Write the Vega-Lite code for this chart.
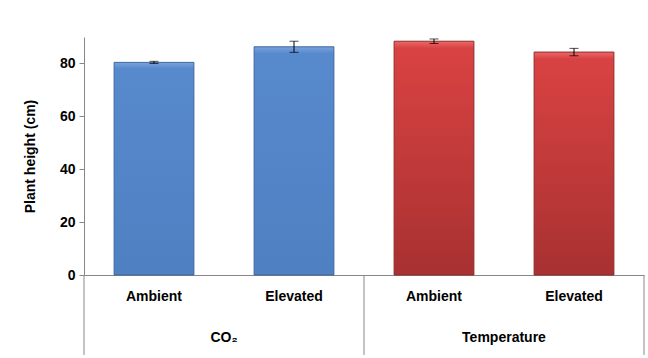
{
  "$schema": "https://vega.github.io/schema/vega-lite/v6.json",
  "width": 560,
  "height": 238,
  "autosize": "none",
  "padding": {"left": 84, "top": 37, "right": 4, "bottom": 83},
  "background": "white",
  "config": {
    "view": {"stroke": null},
    "font": "Liberation Sans",
    "axis": {"grid": false, "domainColor": "#878787", "tickColor": "#878787", "labelColor": "#000000", "titleColor": "#000000", "labelFontSize": 14, "labelFontWeight": "bold", "titleFontSize": 14, "titleFontWeight": "bold"}
  },
  "data": {
    "values": [
      {"key": "CO2|Ambient", "group": "CO2", "glabel": "CO₂", "cond": "Ambient", "height": 80.4, "err": 0.4},
      {"key": "CO2|Elevated", "group": "CO2", "glabel": "CO₂", "cond": "Elevated", "height": 86.3, "err": 2.1},
      {"key": "Temperature|Ambient", "group": "Temperature", "glabel": "Temperature", "cond": "Ambient", "height": 88.4, "err": 0.85},
      {"key": "Temperature|Elevated", "group": "Temperature", "glabel": "Temperature", "cond": "Elevated", "height": 84.3, "err": 1.4}
    ]
  },
  "encoding": {
    "x": {
      "field": "key",
      "type": "nominal",
      "scale": {"domain": ["CO2|Ambient", "CO2|Elevated", "Temperature|Ambient", "Temperature|Elevated"], "paddingInner": 0, "paddingOuter": 0},
      "axis": {"title": null, "labelAngle": 0, "ticks": false, "labelPadding": 14, "labelExpr": "split(datum.value, '|')[1]"}
    }
  },
  "layer": [
    {
      "transform": [{"filter": "datum.group === 'CO2'"}],
      "mark": {
        "type": "bar",
        "width": {"band": 0.57},
        "stroke": "#3f679c",
        "strokeWidth": 1,
        "fill": {"gradient": "linear", "x1": 0, "y1": 0, "x2": 0, "y2": 1, "stops": [{"offset": 0, "color": "#7aa3dc"}, {"offset": 0.03, "color": "#5789cd"}, {"offset": 1, "color": "#4f80c2"}]}
      },
      "encoding": {
        "y": {"field": "height", "type": "quantitative", "title": "Plant height (cm)", "scale": {"domain": [0, 90], "nice": false}, "axis": {"values": [0, 20, 40, 60, 80], "tickSize": 5, "labelPadding": 4, "title": "Plant height (cm)", "titlePadding": 22}}
      }
    },
    {
      "transform": [{"filter": "datum.group === 'Temperature'"}],
      "mark": {
        "type": "bar",
        "width": {"band": 0.57},
        "stroke": "#8e2b2b",
        "strokeWidth": 1,
        "fill": {"gradient": "linear", "x1": 0, "y1": 0, "x2": 0, "y2": 1, "stops": [{"offset": 0, "color": "#ea6a6a"}, {"offset": 0.03, "color": "#d94242"}, {"offset": 1, "color": "#a83131"}]}
      },
      "encoding": {
        "y": {"field": "height", "type": "quantitative", "title": "Plant height (cm)"}
      }
    },
    {
      "mark": {"type": "errorbar", "ticks": {"size": 9, "color": "#000000"}, "rule": {"color": "#000000", "strokeWidth": 1}},
      "encoding": {
        "y": {"field": "height", "type": "quantitative", "title": "Plant height (cm)"},
        "yError": {"field": "err"}
      }
    },
    {
      "transform": [{"filter": "datum.cond === 'Ambient'"}],
      "mark": {"type": "rule", "color": "#878787", "strokeWidth": 1},
      "encoding": {
        "x": {"field": "key", "type": "nominal", "bandPosition": 0},
        "y": {"datum": 0},
        "y2": {"datum": -30.2}
      }
    },
    {
      "transform": [{"filter": "datum.key === 'Temperature|Elevated'"}],
      "mark": {"type": "rule", "color": "#878787", "strokeWidth": 1},
      "encoding": {
        "x": {"field": "key", "type": "nominal", "bandPosition": 1},
        "y": {"datum": 0},
        "y2": {"datum": -30.2}
      }
    },
    {
      "transform": [{"filter": "datum.cond === 'Elevated'"}],
      "mark": {"type": "text", "fontSize": 14, "fontWeight": "bold", "color": "#000000", "baseline": "middle", "align": "center"},
      "encoding": {
        "x": {"field": "key", "type": "nominal", "bandPosition": 0},
        "y": {"datum": -23.8},
        "text": {"field": "glabel"}
      }
    }
  ]
}
